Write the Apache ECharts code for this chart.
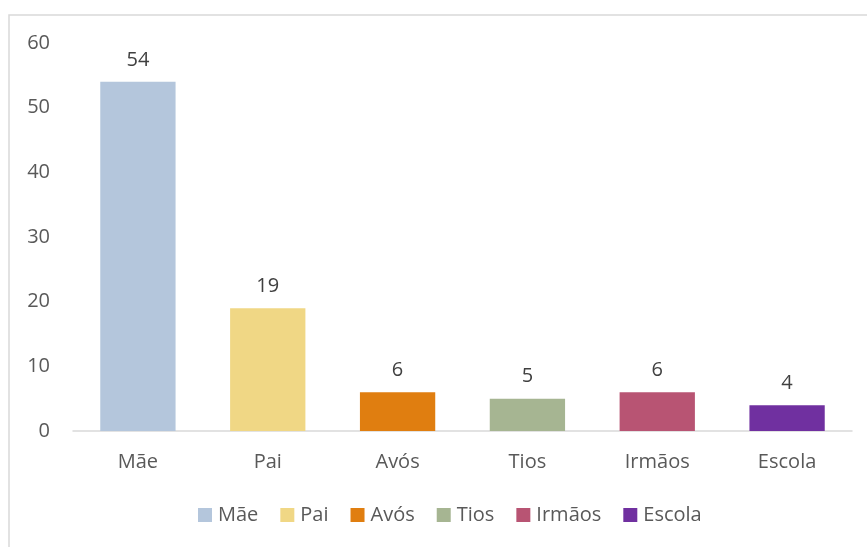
<!DOCTYPE html>
<html><head><meta charset="utf-8">
<script src="https://cdn.jsdelivr.net/npm/echarts@6/dist/echarts.min.js"></script>
<style>html,body{margin:0;padding:0;background:#fff}#c{width:867px;height:547px}</style>
</head><body><div id="c"></div>
<script>
const categories = ['Mãe','Pai','Avós','Tios','Irmãos','Escola'];
const values = [54, 19, 6, 5, 6, 4];
const colors = ['#B4C6DC','#F0D785','#E07E10','#A6B592','#B85473','#7030A0'];
const yTicks = {min:0, max:60, interval:10};

const font = "'Open Sans', 'Liberation Sans', sans-serif";
const series = categories.map((name, i) => ({
  name: name,
  type: 'bar',
  stack: 'all',
  barWidth: '58%',
  itemStyle: {color: colors[i]},
  label: {show: true, position: 'top', distance: 12, color: '#404040', fontSize: 20, fontFamily: font},
  data: categories.map((c, j) => j === i ? values[i] : '-')
}));

const chart = echarts.init(document.getElementById('c'));
chart.setOption({
  animation: false,
  graphic: [{type:'rect', shape:{x:9, y:15, width:900, height:600}, style:{fill:'none', stroke:'#d9d9d9', lineWidth:1.5}, silent:true}],
  grid: {left: 73, right: 15, top: 43, bottom: 116},
  legend: {
    bottom: 17, left: 193,
    itemWidth: 14, itemHeight: 14, itemGap: 22,
    icon: 'rect',
    textStyle: {color: '#595959', fontSize: 20, fontFamily: font, padding:[0,0,0,1]},
    data: categories
  },
  xAxis: {
    type: 'category', data: categories,
    axisLine: {lineStyle: {color: '#d9d9d9', width: 1.5}},
    axisTick: {show: false},
    axisLabel: {color: '#595959', fontSize: 20, fontFamily: font, margin: 21}
  },
  yAxis: {
    type: 'value', min: yTicks.min, max: yTicks.max, interval: yTicks.interval,
    axisLine: {show: false}, axisTick: {show: false},
    splitLine: {show: false},
    axisLabel: {color: '#595959', fontSize: 20, fontFamily: font, margin: 23}
  },
  series: series
});
</script></body></html>
